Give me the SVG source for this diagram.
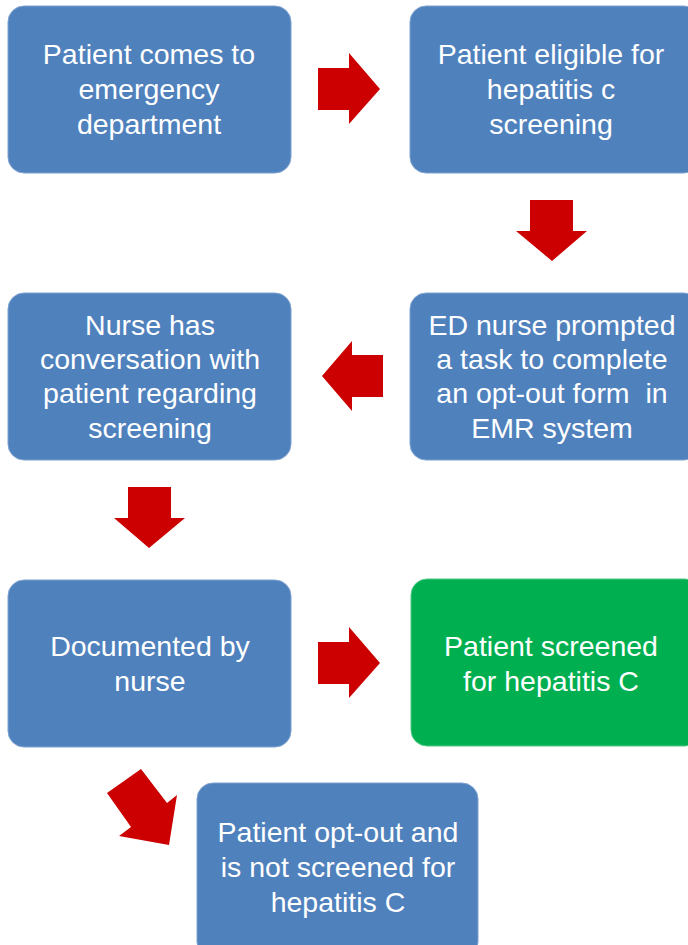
<svg xmlns="http://www.w3.org/2000/svg" width="688" height="945" viewBox="0 0 688 945">
<style>
.b{fill:#4F81BD;stroke:#7FA2D0;stroke-width:1}
.g{fill:#00B050;stroke:#4CC885;stroke-width:1}
.t{font-family:"Liberation Sans","Open Sans",Arial,sans-serif;font-size:28.5px;fill:#fff;text-anchor:middle;white-space:pre}
.a{fill:#CC0000}
</style>
<rect width="688" height="945" fill="#fff"/>
<g id="n1"><rect class="b" x="8" y="6" width="283" height="167" rx="16"/>
<text class="t"><tspan x="149" y="64">Patient comes to</tspan><tspan x="149" y="99">emergency</tspan><tspan x="149" y="134">department</tspan></text></g>
<g id="n2"><rect class="b" x="410" y="6" width="290" height="167" rx="16"/>
<text class="t"><tspan x="551" y="64">Patient eligible for</tspan><tspan x="551" y="99">hepatitis c</tspan><tspan x="551" y="134">screening</tspan></text></g>
<g id="n3"><rect class="b" x="410" y="293" width="290" height="167" rx="16"/>
<text class="t"><tspan x="552" y="335">ED nurse prompted</tspan><tspan x="552" y="369">a task to complete</tspan><tspan x="552" y="403">an opt-out form  in</tspan><tspan x="552" y="438">EMR system</tspan></text></g>
<g id="n4"><rect class="b" x="8" y="293" width="283" height="167" rx="16"/>
<text class="t"><tspan x="150" y="335">Nurse has</tspan><tspan x="150" y="369">conversation with</tspan><tspan x="150" y="403">patient regarding</tspan><tspan x="150" y="438">screening</tspan></text></g>
<g id="n5"><rect class="b" x="8" y="580" width="283" height="167" rx="16"/>
<text class="t"><tspan x="150" y="656">Documented by</tspan><tspan x="150" y="691">nurse</tspan></text></g>
<g id="n6"><rect class="g" x="411" y="579" width="290" height="167" rx="16"/>
<text class="t"><tspan x="551" y="656">Patient screened</tspan><tspan x="551" y="691">for hepatitis C</tspan></text></g>
<g id="n7"><rect class="b" x="197" y="783" width="281" height="175" rx="16"/>
<text class="t"><tspan x="338" y="842">Patient opt-out and</tspan><tspan x="338" y="877">is not screened for</tspan><tspan x="338" y="912">hepatitis C</tspan></text></g>
<g id="connectors">
<polygon class="a" points="318,68 349,68 349,53 380,89 349,124 349,110 318,110"/>
<polygon class="a" points="530,200 573,200 573,231 587,231 552,261 516,231 530,231"/>
<polygon class="a" points="383,355 352,355 352,341 322,376 352,411 352,397 383,397"/>
<polygon class="a" points="128,487 171,487 171,518 185,518 149,548 114,518 128,518"/>
<polygon class="a" points="318,642 349,642 349,627 380,663 349,698 349,684 318,684"/>
<polygon class="a" points="141,769 167,803 177,795 169,845 119,836 131,827 107,793"/>
</g>
</svg>
